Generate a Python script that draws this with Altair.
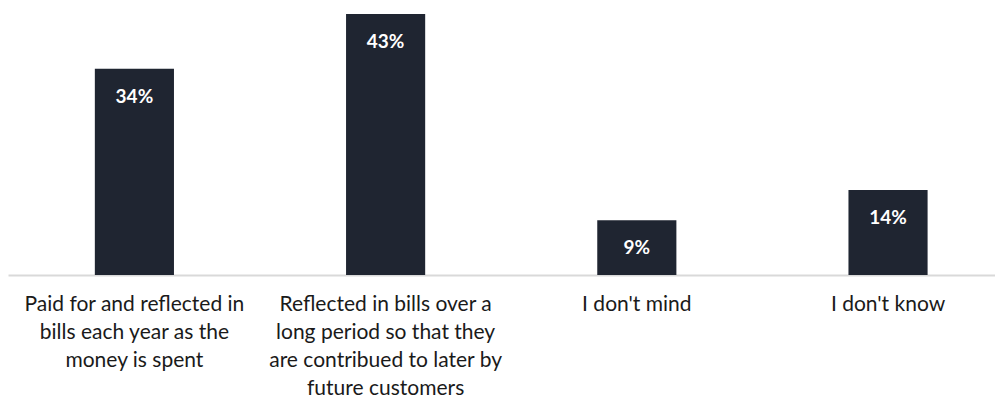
import altair as alt
import pandas as pd

categories = [
    "Paid for and reflected in|bills each year as the|money is spent",
    "Reflected in bills over a|long period so that they|are contribued to later by|future customers",
    "I don't mind",
    "I don't know",
]
values = [34, 43, 9, 14]
value_labels = ["34%", "43%", "9%", "14%"]

df = pd.DataFrame({"cat": categories, "val": values, "lab": value_labels})

x = alt.X(
    "cat:N",
    sort=None,
    scale=alt.Scale(paddingInner=0.685, paddingOuter=0.307, align=0.563),
    axis=alt.Axis(
        title=None,
        labelAngle=0,
        labelExpr="split(datum.label, '|')",
        labelFont="Lato",
        labelFontSize=21,
        labelColor="#1a1a1a",
        labelLineHeight=28,
        labelPadding=18,
        labelBaseline="top",
        labelLimit=400,
        ticks=False,
        grid=False,
        domainColor="#d9d9d9",
        domainWidth=2,
    ),
)
y = alt.Y("val:Q", scale=alt.Scale(domain=[0, 43], nice=False), axis=None)

bars = alt.Chart(df).mark_bar(color="#1f2531").encode(x=x, y=y)
text = bars.mark_text(
    color="white", font="Lato", fontWeight="bold", fontSize=19, dy=28, baseline="middle"
).encode(text="lab:N")

chart = (
    (bars + text)
    .properties(
        width=987,
        height=261,
        autosize=alt.AutoSizeParams(type="pad"),
        padding={"left": 0, "top": 6, "right": 0, "bottom": 0},
        view=alt.ViewBackground(stroke="white", strokeWidth=0, fill="white"),
    )
    .configure_axis(grid=False)
    .configure_view(stroke=None)
    .configure(background="white")
)

chart.save("out.html", embed_options={"renderer": "svg", "actions": False})
